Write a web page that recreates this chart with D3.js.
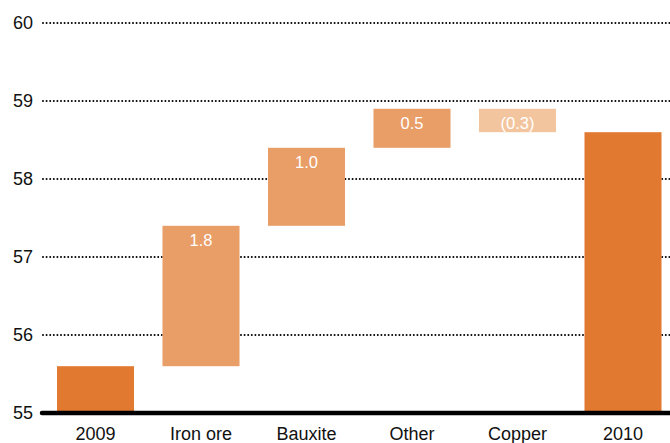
<!DOCTYPE html>
<html><head><meta charset="utf-8">
<script src="https://cdn.jsdelivr.net/npm/d3@7"></script>
<style>body{margin:0;background:#fff;}text{font-family:"Liberation Sans",Arial,Helvetica,sans-serif;}</style>
</head><body>
<svg id="chart" width="670" height="443"></svg>
<script>
const categories = ["2009","Iron ore","Bauxite","Other","Copper","2010"];
const starts = [55, 55.6, 57.4, 58.4, 58.9, 55];
const ends   = [55.6, 57.4, 58.4, 58.9, 58.6, 58.6];
const labels = ["", "1.8", "1.0", "0.5", "(0.3)", ""];
const kinds  = ["total","up","up","up","down","total"];
const yTicks = [55,56,57,58,59,60];

const colors = {total:"#E17931", up:"#E99D67", down:"#F3C59E"};
const svg = d3.select("#chart");
const x = d3.scaleBand().domain(categories).range([42.75, 675.75]).paddingInner(0.27).paddingOuter(0.135);
const y = d3.scaleLinear().domain([55,60]).range([413,23]);

// gridlines
svg.append("g").selectAll("line").data(yTicks.filter(d=>d>55)).join("line")
  .attr("x1",43).attr("x2",670).attr("y1",d=>y(d)).attr("y2",d=>y(d))
  .attr("stroke","#000").attr("stroke-width",2).attr("stroke-linecap","round")
  .attr("stroke-dasharray","0,3.6");

// y tick labels
svg.append("g").selectAll("text").data(yTicks).join("text")
  .attr("x",33).attr("y",d=>y(d)).attr("dy","0.36em").attr("text-anchor","end")
  .attr("font-size",18).attr("fill","#111").text(d=>d);

// bars
const idx = d3.range(categories.length);
svg.append("g").selectAll("rect").data(idx).join("rect")
  .attr("x",i=>x(categories[i])).attr("width",x.bandwidth())
  .attr("y",i=>y(Math.max(starts[i],ends[i])))
  .attr("height",i=>Math.abs(y(starts[i])-y(ends[i])))
  .attr("fill",i=>colors[kinds[i]]);

// value labels
svg.append("g").selectAll("text").data(idx.filter(i=>labels[i])).join("text")
  .attr("x",i=>x(categories[i])+x.bandwidth()/2)
  .attr("y",i=>y(Math.max(starts[i],ends[i]))+20)
  .attr("text-anchor","middle").attr("font-size",16.5).attr("fill","#fff")
  .text(i=>labels[i]);

// baseline
svg.append("line").attr("x1",42).attr("x2",670).attr("y1",y(55)).attr("y2",y(55))
  .attr("stroke","#000").attr("stroke-width",4.5).attr("stroke-linecap","round");

// category labels
svg.append("g").selectAll("text").data(categories).join("text")
  .attr("x",d=>x(d)+x.bandwidth()/2).attr("y",440)
  .attr("text-anchor","middle").attr("font-size",18).attr("fill","#111").text(d=>d);
</script>
</body></html>
